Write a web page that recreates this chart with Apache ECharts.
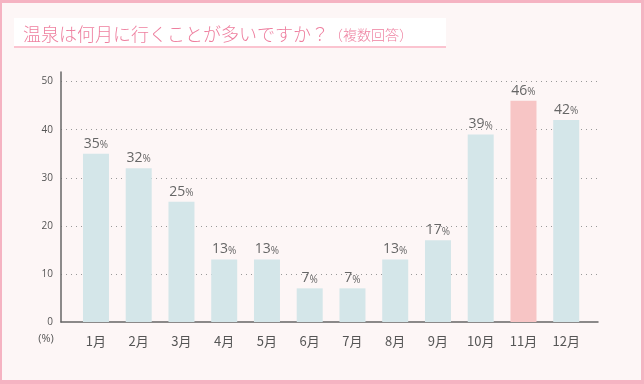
<!DOCTYPE html>
<html><head><meta charset="utf-8">
<script src="https://cdn.jsdelivr.net/npm/echarts@6/dist/echarts.min.js"></script>
<style>html,body{margin:0;padding:0;background:#fdf6f6;}#c{width:644px;height:384px;}</style>
</head><body><div id="c"></div>
<script>
const months = ['1月','2月','3月','4月','5月','6月','7月','8月','9月','10月','11月','12月'];
const values = [35,32,25,13,13,7,7,13,17,39,46,42];
const highlightIndex = 10;
const yTicks = [0,10,20,30,40,50];
const titleMain = '温泉は何月に行くことが多いですか？';
const titleSub = '（複数回答）';

const chart = echarts.init(document.getElementById('c'), null, {renderer:'canvas'});
const FONT = '"Open Sans","Noto Sans CJK JP",sans-serif';
const JP = '"Noto Sans CJK JP",sans-serif';
const opt = {
  backgroundColor: '#f5b3c2',
  animation: false,
  graphic: [
    {type:'rect', z:-10, shape:{x:2,y:3,width:639,height:377}, style:{fill:'#fdf6f6'}},
    {type:'rect', z:-5, shape:{x:14,y:18,width:432,height:28},
     style:{fill:'#ffffff', shadowColor:'#fbc4d0', shadowOffsetY:2, shadowBlur:0}},
    {type:'text', z:10, x:23, y:34,
     style:{text:'{a|'+titleMain+'}{b|'+titleSub+'}', verticalAlign:'middle',
       rich:{a:{fontSize:18, fill:'#ee7f9f', fontFamily:JP, fontWeight:300},
             b:{fontSize:14, fill:'#ee7f9f', fontFamily:JP, fontWeight:300, padding:[2,0,0,0]}}}},
    {type:'text', z:10, x:46, y:339,
     style:{text:'(%)', fontSize:11, fill:'#555', fontFamily:FONT, align:'center', verticalAlign:'middle'}}
  ],
  grid: [
    {left:74.6, right:56.4, top:72, bottom:62},
    {left:61, right:46, top:72, bottom:62}
  ],
  xAxis: [
    {type:'category', gridIndex:0, data:months,
     axisLine:{show:false}, axisTick:{show:false},
     axisLabel:{color:'#555', fontSize:13, margin:13, fontFamily:JP}},
    {type:'value', gridIndex:1, min:0, max:1,
     axisLine:{show:true, onZero:false, lineStyle:{color:'#666', width:1.5}},
     axisTick:{show:false}, axisLabel:{show:false}, splitLine:{show:false}}
  ],
  yAxis: [
    {type:'value', gridIndex:0, min:0, max:52, show:false, splitLine:{show:false}},
    {type:'value', gridIndex:1, min:0, max:52, interval:10,
     axisLine:{show:true, lineStyle:{color:'#666', width:1.5}},
     axisTick:{show:false},
     axisLabel:{color:'#555', fontSize:10, margin:8, fontFamily:FONT, showMaxLabel:false,
       formatter: v => yTicks.includes(v) ? String(v) : ''},
     splitLine:{show:true, showMinLine:false, showMaxLine:false,
       lineStyle:{color:'#999', type:[1,4], width:1}}}
  ],
  series: [{
    type:'bar', xAxisIndex:0, yAxisIndex:0, barWidth:26,
    data: values.map((v,i)=>({value:v, itemStyle:{color: i===highlightIndex ? '#f7c5c5' : '#d4e6e9'}})),
    label:{show:true, position:'top', distance:3,
      formatter: p => '{n|'+p.value+'}{p|%}',
      rich:{n:{fontSize:14, color:'#666', fontFamily:FONT},
            p:{fontSize:10, color:'#666', fontFamily:FONT, padding:[3,0,0,0]}}}
  }]
};
chart.setOption(opt);
</script></body></html>
